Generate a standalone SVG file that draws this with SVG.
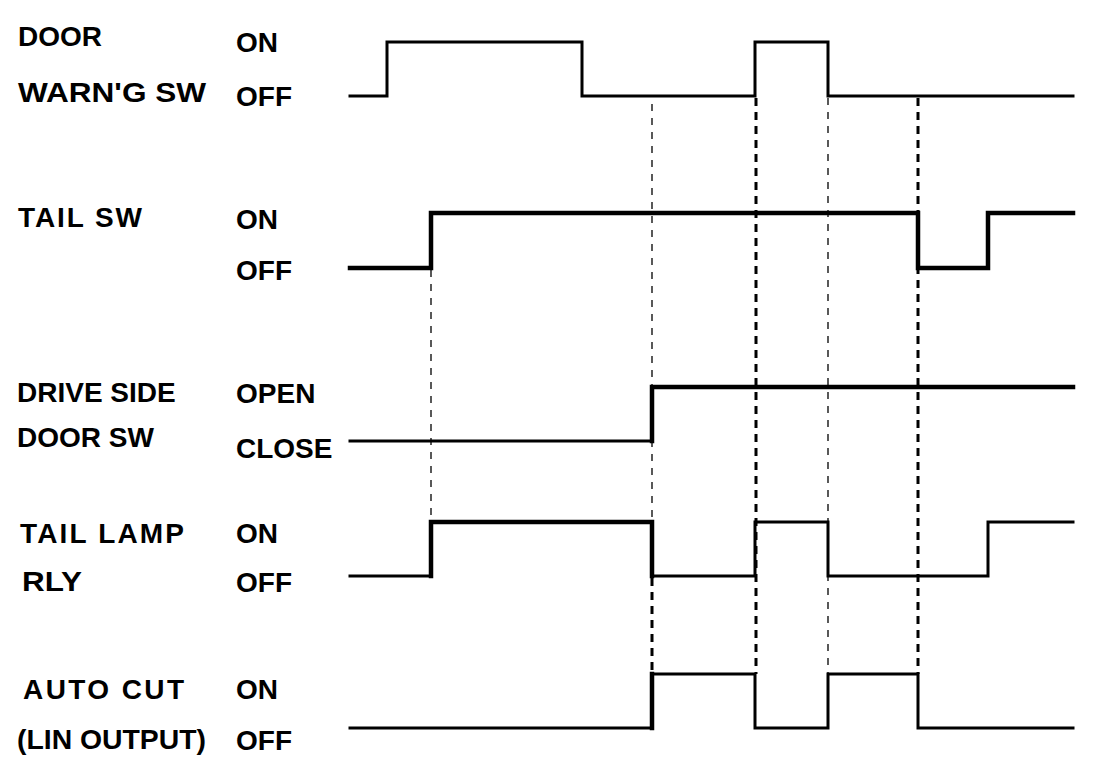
<svg xmlns="http://www.w3.org/2000/svg" width="1120" height="770" viewBox="0 0 1120 770">
<style>
text{font-family:"Liberation Sans",Arial,sans-serif;font-weight:bold;font-size:28px;fill:#000}
.w{fill:none;stroke:#000;stroke-linejoin:miter;stroke-linecap:square}
.t3{stroke-width:3}
.t4{stroke-width:4.5}
.g1{fill:none;stroke:#000;stroke-width:1.3;stroke-dasharray:7 7}
.g3{fill:none;stroke:#000;stroke-width:3;stroke-dasharray:8 6}
</style>
<rect width="1120" height="770" fill="#fff"/>
<g id="guides">
<line class="g1" x1="431" y1="270" x2="431" y2="522"/>
<line class="g1" x1="652" y1="104" x2="652" y2="576"/>
<line class="g3" x1="652" y1="578" x2="652" y2="674"/>
<line class="g3" x1="756" y1="98" x2="756" y2="674"/>
<line class="g1" x1="828" y1="98" x2="828" y2="674"/>
<line class="g3" x1="918" y1="98" x2="918" y2="674"/>
</g>
<g id="door-warning-sw">
<text x="18" y="46">DOOR</text>
<text x="18" y="102" textLength="188" lengthAdjust="spacingAndGlyphs">WARN'G SW</text>
<text x="236" y="52">ON</text>
<text x="236" y="106">OFF</text>
<polyline class="w t3" points="350,96 387,96 387,42 582,42 582,96 755,96 755,42 828,42 828,96 1073,96"/>
</g>
<g id="tail-sw">
<text x="18" y="227" textLength="124" lengthAdjust="spacing">TAIL SW</text>
<text x="236" y="229">ON</text>
<text x="236" y="280">OFF</text>
<polyline class="w t4" points="350,268 431,268 431,213 918,213 918,268 988,268 988,213 1073,213"/>
</g>
<g id="drive-side-door-sw">
<text x="17" y="402">DRIVE SIDE</text>
<text x="17" y="447">DOOR SW</text>
<text x="236" y="403">OPEN</text>
<text x="236" y="458">CLOSE</text>
<polyline class="w t3" points="350,441 652,441"/>
<polyline class="w t4" points="652,441 652,387 1073,387"/>
</g>
<g id="tail-lamp-rly">
<text x="20" y="543" textLength="164" lengthAdjust="spacing">TAIL LAMP</text>
<text x="22" y="591" textLength="60" lengthAdjust="spacingAndGlyphs">RLY</text>
<text x="236" y="543">ON</text>
<text x="236" y="592">OFF</text>
<polyline class="w t3" points="350,576 431,576"/>
<polyline class="w t4" points="431,576 431,522 652,522 652,576"/>
<polyline class="w t3" points="652,576 755,576 755,522 828,522 828,576 988,576 988,522 1073,522"/>
</g>
<g id="auto-cut">
<text x="23" y="699" textLength="161" lengthAdjust="spacing">AUTO CUT</text>
<text x="17" y="749" textLength="189" lengthAdjust="spacingAndGlyphs">(LIN OUTPUT)</text>
<text x="236" y="699">ON</text>
<text x="236" y="750">OFF</text>
<polyline class="w t3" points="350,728 652,728"/>
<polyline class="w t4" points="652,728 652,674"/>
<polyline class="w t3" points="652,674 755,674 755,728 828,728 828,674 918,674 918,728 1073,728"/>
</g>
</svg>
